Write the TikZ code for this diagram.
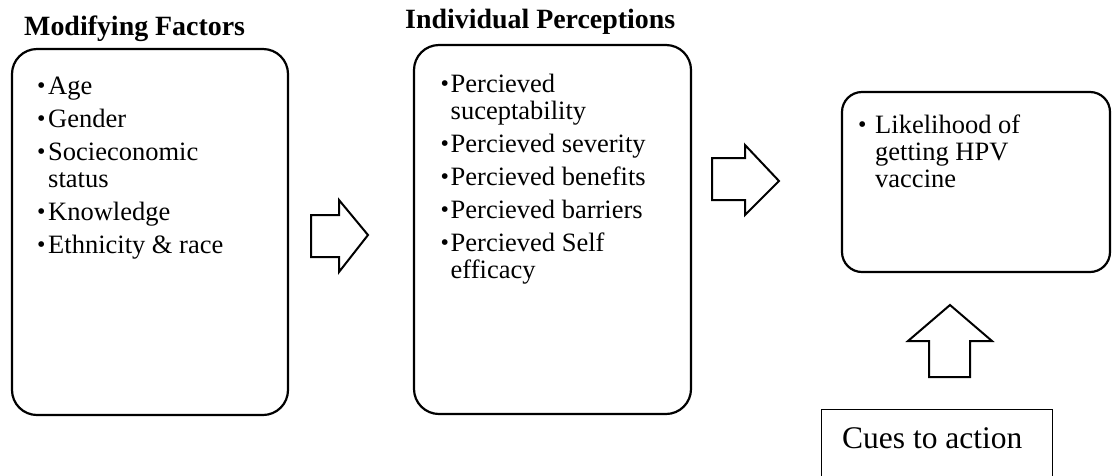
\documentclass[tikz,border=0pt]{standalone}
\usepackage{fontspec}
\setmainfont{Liberation Serif}
% raised bullet in a box of given width
\newcommand\bul[1][11pt]{\makebox[#1][l]{\raisebox{0.5pt}{\fontsize{24}{24}\selectfont\textbullet}}}
\newcommand\ind[1][11pt]{\hspace*{#1}}
\begin{document}
\begin{tikzpicture}[x=1pt,y=-1pt,
  panel/.style={draw, line width=2.2pt, rounded corners=25pt, inner sep=0pt, outer sep=0pt, anchor=north west},
  plainbox/.style={draw, line width=1pt, inner sep=0pt, anchor=north west},
  listtext/.style={inner sep=0pt, anchor=base west, font=\fontsize{26.5}{27}\selectfont},
  heading/.style={inner sep=0pt, anchor=base west, font=\fontsize{27.9}{28}\selectfont\bfseries},
  cuetext/.style={inner sep=0pt, anchor=base west, font=\fontsize{31.5}{32}\selectfont},
  blockarrow/.style={draw, line width=2pt, line join=miter, fill=white}]
\useasboundingbox (0,0) rectangle (1113,475);
\clip (0,0) rectangle (1113,475);

% headings
\node[heading] (modsTitle) at (24,35) {Modifying Factors};
\node[heading] (percTitle) at (405,28) {Individual Perceptions};

% rounded panels
\node[panel, minimum width=276pt, minimum height=366pt] (mods) at (12,49) {};
\node[panel, minimum width=277pt, minimum height=369pt] (perc) at (414,45) {};
\node[panel, minimum width=268pt, minimum height=180pt, rounded corners=20pt] (likely) at (842,92) {};

% panel contents
\node[listtext] (modsList) at (37,94) {\begin{tabular}[t]{@{}l@{}}
\bul Age\\[6pt]
\bul Gender\\[6pt]
\bul Socieconomic\\
\ind status\\[6pt]
\bul Knowledge\\[6pt]
\bul Ethnicity \& race
\end{tabular}};

\node[listtext] (percList) at (440.5,92) {\begin{tabular}[t]{@{}l@{}}
\bul[10pt]Percieved\\
\ind[10pt]suceptability\\[6pt]
\bul[10pt]Percieved severity\\[6pt]
\bul[10pt]Percieved benefits\\[6pt]
\bul[10pt]Percieved barriers\\[6pt]
\bul[10pt]Percieved Self\\
\ind[10pt]efficacy
\end{tabular}};

\node[listtext] (likelyList) at (858,133) {\begin{tabular}[t]{@{}l@{}}
\bul[17pt]Likelihood of\\
\ind[17pt]getting HPV\\
\ind[17pt]vaccine
\end{tabular}};

% cues box
\node[plainbox, minimum width=231pt, minimum height=80pt] (cues) at (821,409) {};
\node[cuetext] (cuesText) at (842,448) {Cues to action};

% block arrows
\draw[blockarrow] (311,215) -- (339,215) -- (339,200) -- (368,235) -- (339,272) -- (339,257) -- (311,257) -- cycle;
\draw[blockarrow] (712,158) -- (745,158) -- (745,145) -- (779,181) -- (745,215) -- (745,200) -- (712,200) -- cycle;
\draw[blockarrow] (929,377) -- (929,341) -- (908,341) -- (950,305) -- (992,341) -- (970,341) -- (970,377) -- cycle;
\end{tikzpicture}
\end{document}
